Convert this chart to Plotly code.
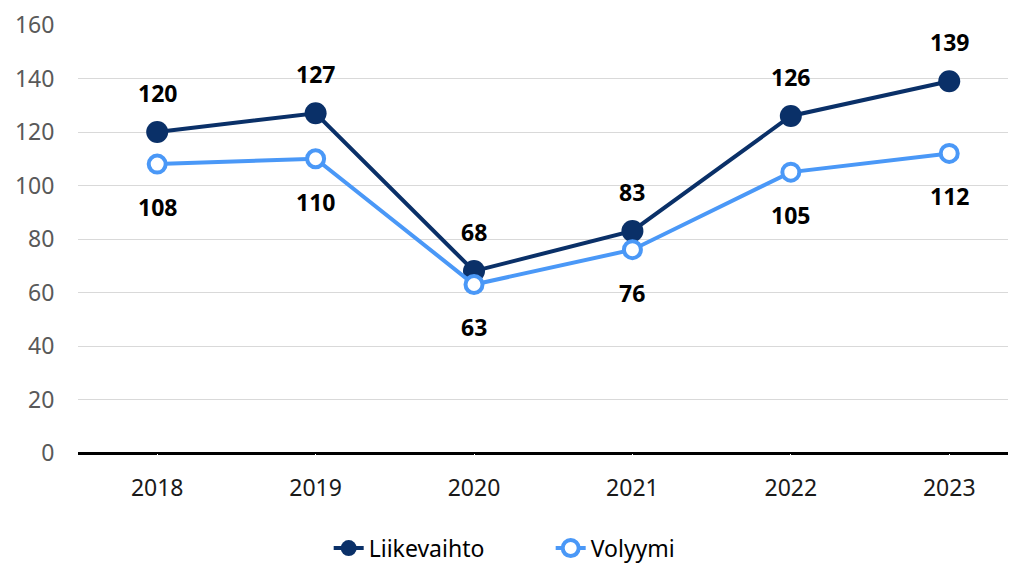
import plotly.graph_objects as go

years = ["2018", "2019", "2020", "2021", "2022", "2023"]
liikevaihto = [120, 127, 68, 83, 126, 139]
volyymi = [108, 110, 63, 76, 105, 112]

dark_blue = "#0a3068"
light_blue = "#4a98f7"
font_family = "Noto Sans, Open Sans, sans-serif"

fig = go.Figure()

fig.add_trace(go.Scatter(
    x=years, y=liikevaihto,
    mode="lines+markers",
    name="Liikevaihto",
    line=dict(color=dark_blue, width=4),
    marker=dict(size=22, color=dark_blue, line=dict(width=0)),
))

fig.add_trace(go.Scatter(
    x=years, y=volyymi,
    mode="lines+markers",
    name="Volyymi",
    line=dict(color=light_blue, width=4),
    marker=dict(size=17, color="white", line=dict(color=light_blue, width=4)),
))

# data labels: above for Liikevaihto, below for Volyymi
for i, y in enumerate(liikevaihto):
    fig.add_annotation(x=i, y=y, xref="x", yref="y", text=f"<b>{y}</b>",
                       showarrow=False, yshift=39,
                       font=dict(size=23, color="black", family=font_family))
for i, y in enumerate(volyymi):
    fig.add_annotation(x=i, y=y, xref="x", yref="y", text=f"<b>{y}</b>",
                       showarrow=False, yshift=-43,
                       font=dict(size=23, color="black", family=font_family))

# page body has an 8px margin, so margins are shifted to compensate
fig.update_layout(
    width=1016, height=566,
    margin=dict(l=70, r=0, t=17, b=121),
    plot_bgcolor="white",
    paper_bgcolor="white",
    font=dict(family=font_family),
    showlegend=True,
    legend=dict(orientation="h", x=0.265, xanchor="left", y=-0.172, yanchor="top",
                font=dict(size=23, color="black"), entrywidth=177, entrywidthmode="pixels"),
    xaxis=dict(
        type="category",
        range=[-0.5, 5.472],
        showgrid=False,
        showline=False,
        zeroline=False,
        ticks="outside",
        ticklen=14,
        tickcolor="white",
        tickfont=dict(size=23, color="#1a1a1a"),
    ),
    yaxis=dict(
        range=[0, 160],
        dtick=20,
        showgrid=True,
        gridcolor="#d9d9d9",
        gridwidth=1,
        zeroline=True,
        zerolinecolor="black",
        zerolinewidth=3,
        showline=False,
        ticks="outside",
        ticklen=18,
        tickcolor="white",
        tickfont=dict(size=23, color="#595959"),
    ),
)

fig.write_html("out.html")
